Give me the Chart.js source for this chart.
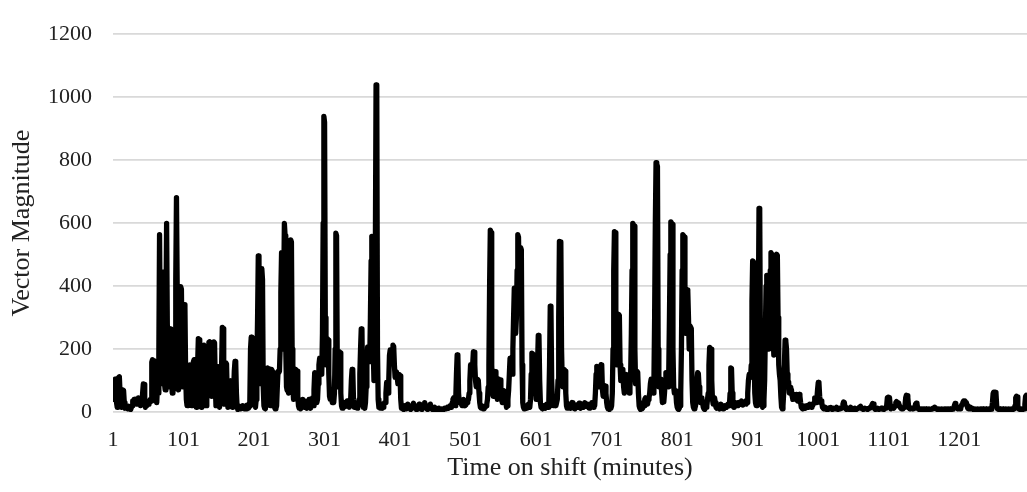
<!DOCTYPE html>
<html>
<head>
<meta charset="utf-8">
<script src="https://cdn.jsdelivr.net/npm/chart.js@4.4.1/dist/chart.umd.min.js"></script>
<style>
  html, body { margin: 0; padding: 0; background: #ffffff; }
  canvas { display: block; }
</style>
</head>
<body>
<canvas id="chart" width="1027" height="492"></canvas>
<script>
// Vector magnitude recorded once per minute across the shift (20 minutes per row)
const vectorMagnitude = [
  100,40,65,104,100,30,15,50,110,112,60,20,15,30,70,68,30,12,20,18,
  12,10,18,15,10,8,14,20,35,25,40,30,38,25,42,30,45,35,40,20,
  30,25,60,89,88,30,15,25,20,30,25,35,30,40,35,158,166,163,162,160,
  158,45,30,80,60,180,563,260,110,90,250,444,200,90,70,300,599,280,120,80,
  150,264,250,110,60,100,70,140,200,420,681,400,150,70,110,250,398,390,180,80,
  150,341,330,120,40,20,50,100,148,150,60,20,30,90,160,166,162,50,15,40,
  150,233,230,90,20,15,40,110,200,212,208,80,20,40,120,200,222,223,218,100,
  50,120,215,223,220,90,20,60,145,142,40,15,30,60,150,269,265,100,25,40,
  156,152,50,15,20,50,99,96,35,15,20,60,130,161,158,60,15,8,10,14,
  18,10,12,16,20,12,10,14,15,10,22,15,12,18,30,200,238,236,235,230,
  60,20,15,40,150,300,496,480,150,90,300,455,420,80,20,12,10,30,100,140,
  138,135,60,20,40,135,130,125,50,15,10,12,20,80,129,125,130,200,380,506,
  500,200,380,599,560,200,80,68,70,60,100,300,547,540,200,80,40,60,100,135,
  133,130,50,20,12,15,10,25,18,40,20,15,35,22,15,12,30,20,40,15,
  12,25,18,45,20,70,125,122,70,30,40,90,150,171,168,150,120,250,600,939,
  920,300,150,180,233,228,120,50,40,45,40,30,45,30,60,200,568,560,150,80,
  150,192,188,60,20,12,15,25,30,18,20,28,35,20,25,15,15,40,100,135,
  132,40,15,18,25,15,12,15,20,40,120,200,264,260,60,15,20,12,30,80,
  150,207,205,200,160,300,480,558,555,200,100,150,500,1039,1030,200,40,15,20,12,
  18,25,12,15,22,30,30,60,94,90,60,100,180,197,190,160,190,212,208,150,
  110,129,127,110,90,110,119,115,40,12,15,10,8,12,20,15,10,18,25,15,
  12,10,8,14,18,22,28,15,12,10,8,12,15,20,25,15,10,9,8,14,
  20,25,30,20,15,10,8,10,12,18,25,15,10,8,6,10,15,12,10,8,
  8,10,12,8,5,8,10,9,8,10,12,11,10,12,15,13,12,15,20,15,
  15,30,40,45,30,20,40,120,181,178,60,30,40,35,25,20,35,40,30,20,
  22,25,30,35,40,60,100,150,148,140,150,192,190,150,100,80,90,104,100,60,
  30,15,12,20,15,10,12,15,15,20,25,40,80,150,400,578,570,150,70,50,
  80,129,128,100,60,40,70,104,100,102,60,40,30,50,68,65,60,30,15,20,
  40,70,120,171,168,165,120,200,300,393,390,250,300,450,563,555,400,480,522,515,
  150,30,15,10,14,20,15,12,18,25,20,15,40,120,187,185,150,181,178,80,
  40,60,150,243,240,100,30,15,12,10,15,20,14,12,18,25,20,15,40,150,
  336,330,100,40,20,30,45,25,20,30,40,100,300,542,540,538,200,100,80,120,
  135,130,60,20,12,15,20,25,18,12,20,30,22,18,12,10,15,22,18,15,
  20,28,18,12,15,20,18,15,22,30,25,18,20,25,15,12,15,20,25,30,
  22,15,18,20,60,120,145,142,90,80,110,140,150,148,70,50,70,84,82,60,
  30,15,10,12,8,15,12,20,60,200,450,573,570,300,150,200,280,310,306,150,
  100,130,135,132,80,60,80,100,119,116,100,70,60,80,120,250,450,599,595,590,
  200,90,110,129,126,60,20,12,8,10,15,12,30,20,40,45,30,45,25,40,
  45,60,90,104,102,80,60,100,300,600,792,788,780,200,80,90,104,102,60,30,
  35,32,60,100,125,122,100,80,120,300,500,604,600,596,200,80,60,68,66,30,
  15,10,8,12,20,60,200,450,563,560,555,300,250,350,388,384,300,200,274,270,
  265,100,30,15,10,12,20,50,100,125,122,80,40,30,45,42,30,15,10,8,
  12,15,20,40,60,150,205,202,200,100,40,25,35,45,30,15,12,15,20,14,
  10,18,25,20,15,10,12,16,20,18,15,20,25,22,20,60,140,138,60,20,
  15,15,22,30,25,20,25,30,28,25,30,35,28,22,25,30,32,35,25,30,
  60,100,119,117,110,150,350,480,478,200,60,30,20,25,60,300,647,640,200,60,
  20,15,20,40,100,250,400,434,430,300,200,300,450,506,502,400,250,181,200,350,
  480,501,498,300,150,119,100,50,15,10,20,60,150,228,225,200,120,99,96,60,
  78,76,70,50,40,45,55,50,40,56,54,35,40,56,50,30,15,12,10,14,
  18,15,12,16,20,18,15,20,25,18,15,18,20,25,30,45,42,30,40,70,
  94,92,50,30,35,30,15,12,10,12,15,10,8,10,12,9,10,12,15,10,
  8,10,12,10,10,12,15,10,8,10,12,10,10,12,15,25,32,30,15,10,
  8,10,12,10,8,12,15,12,10,8,6,10,12,10,8,10,10,12,15,16,
  18,12,10,9,8,10,12,10,10,9,8,10,12,14,15,18,22,27,26,15,
  10,8,9,10,12,10,8,9,10,12,10,12,10,8,10,12,15,20,45,47,
  47,46,20,10,12,15,14,12,15,20,30,33,30,25,28,20,15,12,10,10,
  11,12,15,20,45,53,52,45,20,12,10,10,12,12,10,10,12,15,25,28,
  26,12,10,8,9,10,9,8,9,10,9,8,9,10,9,8,9,10,9,8,
  9,10,11,12,14,15,14,10,9,8,9,10,9,8,9,10,9,8,9,10,
  9,8,9,10,9,8,9,10,9,8,9,10,12,20,27,26,15,12,10,12,
  11,10,12,20,25,30,35,33,35,32,30,20,12,10,10,12,15,12,10,9,
  8,9,10,9,8,9,10,9,8,9,10,9,8,9,10,9,8,9,10,9,
  8,9,10,9,8,9,10,30,60,63,63,62,60,20,10,9,8,9,10,9,
  8,9,10,9,8,9,10,9,8,9,10,9,8,9,10,9,8,9,10,20,
  45,50,48,20,10,9,8,9,10,9,8,9,10,25,50,53,50
];

// Minutes that carry a label on the time axis
const xTickMinutes = [1, 101, 201, 301, 401, 501, 601, 701, 801, 901, 1001, 1101, 1201];
// Value axis ticks
const yTickValues = [0, 200, 400, 600, 800, 1000, 1200];

const xAxisTitle = 'Time on shift (minutes)';
const yAxisTitle = 'Vector Magnitude';

// Minute index for each reading (first reading is minute 1)
const minutes = vectorMagnitude.map((_, i) => i + 1);
const points = minutes.map((m, i) => ({ x: m, y: vectorMagnitude[i] }));

const textColor = '#222222';
const gridColor = '#d9d9d9';
const serif = '"Liberation Serif", "Times New Roman", serif';

new Chart(document.getElementById('chart'), {
  type: 'line',
  data: {
    datasets: [{
      data: points,
      borderColor: '#000000',
      borderWidth: 5.3,
      borderJoinStyle: 'round',
      borderCapStyle: 'round',
      pointRadius: 0,
      pointHoverRadius: 0,
      tension: 0,
      fill: false
    }]
  },
  options: {
    responsive: false,
    animation: false,
    devicePixelRatio: 1,
    layout: { padding: { top: 24, right: 0, bottom: 0, left: 0 } },
    plugins: {
      legend: { display: false },
      tooltip: { enabled: false }
    },
    scales: {
      x: {
        type: 'linear',
        min: minutes[0],
        max: minutes[minutes.length - 1],
        afterBuildTicks: (scale) => {
          scale.ticks = xTickMinutes.map(v => ({ value: v }));
        },
        afterFit: (scale) => { scale.height = 80; },
        grid: { display: false, drawTicks: false },
        border: { display: false },
        ticks: {
          autoSkip: false,
          maxRotation: 0,
          padding: 15,
          color: textColor,
          font: { family: serif, size: 22 },
          callback: (v) => String(v)
        },
        title: {
          display: true,
          text: xAxisTitle,
          color: textColor,
          font: { family: serif, size: 26 },
          padding: { top: 0, bottom: 8 }
        }
      },
      y: {
        min: yTickValues[0],
        max: yTickValues[yTickValues.length - 1],
        afterBuildTicks: (scale) => {
          scale.ticks = yTickValues.map(v => ({ value: v }));
        },
        afterFit: (scale) => { scale.width = 113; },
        grid: { color: gridColor, lineWidth: 1.75, drawTicks: false },
        border: { display: false },
        ticks: {
          padding: 21,
          color: textColor,
          font: { family: serif, size: 22 },
          callback: (v) => String(v)
        },
        title: {
          display: true,
          text: yAxisTitle,
          color: textColor,
          font: { family: serif, size: 26 },
          padding: { top: 7, bottom: 0 }
        }
      }
    }
  }
});
</script>
</body>
</html>
